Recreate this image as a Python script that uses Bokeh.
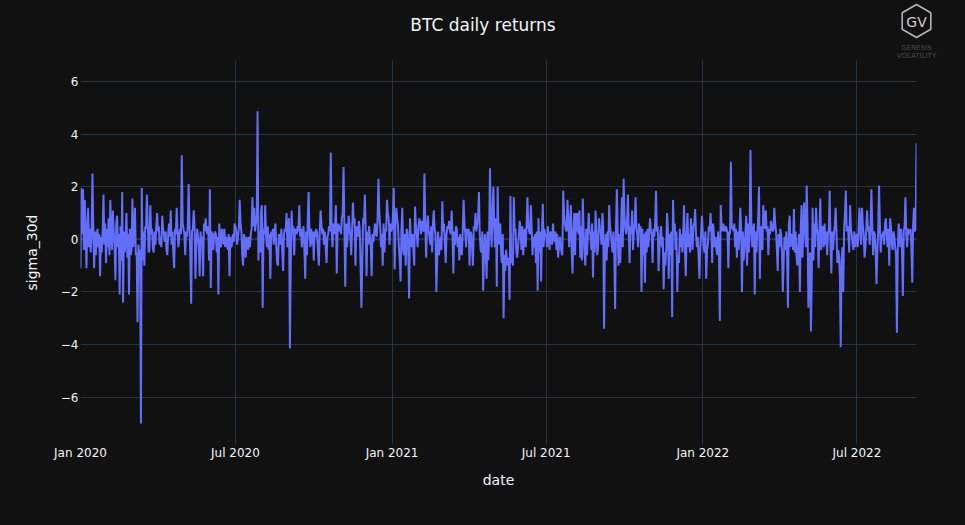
import calendar
import pandas as pd
from bokeh.plotting import figure
from bokeh.layouts import column
from bokeh.models import (Range1d, FixedTicker, Span, Label, ColumnDataSource,
                          DatetimeTickFormatter)
from bokeh.embed import file_html
from bokeh.resources import INLINE

TITLE = "BTC daily returns"
X_LABEL = "date"
Y_LABEL = "sigma_30d"
y_ticks = [-6, -4, -2, 0, 2, 4, 6]
x_tick_dates = ["2020-01-01", "2020-07-01", "2021-01-01", "2021-07-01", "2022-01-01", "2022-07-01"]
x_tick_labels = ["Jan 2020", "Jul 2020", "Jan 2021", "Jul 2021", "Jan 2022", "Jul 2022"]
start_date = "2020-01-01"

# daily sigma_30d values
r_2020_01 = [-1.1, 1.95, 0.2, 1.9, -0.4, 1.5, 0.3, -1.1, 0.5, 1.2, -0.3, 0.4, -0.5, 0.2, 2.5, 0.5, -1.1, 0.3, -0.6, 0.1, 0.4, -0.3, 0.2, -1.4, 0.1, -0.5, 0.3, 1.7, -0.2, 0.6, -0.9]
r_2020_02 = [0.4, -0.3, 0.8, -0.6, 1.5, 0.2, -0.4, 1.1, 0.3, -0.2, -1.55, 0.6, 0.9, -0.3, 0.2, -2.1, 0.5, -0.8, 1.8, -2.4, 0.3, -0.5, 0.1, 1.0, -0.7, 0.2, -2.1, 0.4, -0.6]
r_2020_03 = [-0.4, 1.55, -0.3, 0.2, 1.2, -0.6, -0.5, -3.15, -0.2, -0.6, -0.4, -7.0, 1.95, -0.8, 0.3, -1.0, 0.5, 0.4, 1.7, 0.6, -0.5, -0.4, 1.3, 0.2, 0.4, -0.3, -0.5, 0.3, -0.2, 0.5, 1.0]
r_2020_04 = [0.3, 0.5, -0.2, 0.1, -0.3, 0.9, 0.4, 0.2, -0.1, 0.3, -0.4, -0.6, 0.2, 0.6, 0.1, 1.1, -0.2, 0.3, -0.5, -1.1, 0.4, 0.2, 1.2, 0.3, -0.3, 0.1, 0.4, 0.2, 3.2, 0.6]
r_2020_05 = [0.4, 0.2, -0.6, 0.3, 0.1, 0.5, 2.1, 0.6, -0.7, -2.45, 0.3, 0.4, 1.1, 0.5, -1.5, -0.2, 0.4, 0.1, -0.3, -1.4, 0.3, -0.2, 0.1, -1.4, 0.6, 0.3, 0.8, 0.4, 0.2, 0.5, -0.8]
r_2020_06 = [1.9, -1.85, 0.3, 0.2, -0.4, 0.1, 0.3, 0.2, -0.5, 0.1, -2.1, 0.6, -0.1, -0.3, 0.4, 0.2, -0.2, 0.4, -0.3, 0.1, -0.1, -0.4, 0.2, -1.4, 0.1, -0.3, -0.2, 0.2, -0.1, 0.6]
r_2020_07 = [0.5, 0.3, -0.2, 0.1, 0.4, 1.5, 0.6, 0.3, -0.6, -1.0, 0.2, -0.3, -0.7, 0.1, -0.2, -0.4, 0.1, -0.3, 0.2, 0.4, 1.6, 0.5, 1.2, 0.3, 0.6, 0.9, 4.87, -0.8, 0.3, -0.5, 1.0]
r_2020_08 = [1.3, -2.6, 0.4, 0.2, 1.3, 0.1, -0.3, 0.5, -0.4, 0.2, -1.5, 0.3, 0.1, 0.4, -0.2, 0.3, 0.6, -0.3, -0.9, -1.0, 0.2, 0.1, -0.2, 0.4, -0.5, -1.2, 0.2, 0.4, 0.3, 1.0, -0.3]
r_2020_09 = [0.6, 0.8, -4.15, -0.9, 1.1, 0.2, 0.5, -0.6, 0.4, 0.3, 0.2, 0.5, 0.3, 1.3, 0.1, 0.4, -0.3, 0.2, 0.5, -0.4, -1.5, 0.3, -0.6, 0.8, 1.8, 0.2, -0.3, 0.4, -0.2, 0.3]
r_2020_10 = [-0.8, 0.3, 0.1, 0.4, 0.2, -0.5, -1.0, 0.3, 1.1, 0.6, 0.2, 0.4, -0.2, 0.3, -0.3, -0.9, 0.1, 0.2, 0.5, 0.3, 3.3, 0.4, -0.3, 0.6, 0.2, 0.5, 1.3, -1.3, 0.4, 0.6, 0.3]
r_2020_11 = [0.5, 0.2, 0.8, 1.0, 2.75, 0.4, -1.8, 0.6, -0.3, 0.2, 0.9, 0.5, 0.1, -0.6, 0.3, 1.4, 0.6, 0.8, -1.0, 0.5, 0.3, 0.1, 0.7, 0.4, -1.0, -2.6, -0.9, 0.8, 0.6, 1.7]
r_2020_12 = [0.4, -1.4, 0.3, -0.2, 0.5, 0.1, -0.3, -1.4, 0.2, -0.1, 0.3, 0.6, 0.2, 0.1, 0.8, 2.3, 1.0, 0.5, -0.3, 0.2, -1.0, 0.6, -0.5, 0.4, 0.3, 1.5, 1.0, 0.8, -0.2, 0.6, 0.3]
r_2021_01 = [0.4, 0.9, 1.95, -1.15, 0.6, 1.2, 0.8, 0.5, -0.3, -0.8, -1.6, 0.3, 1.2, -0.4, -0.6, 0.2, -1.0, 0.4, 0.3, -0.5, -2.25, 0.8, 0.1, -0.3, 0.2, -0.4, -1.0, 1.25, 0.5, 0.2, -0.3]
r_2021_02 = [0.5, 0.8, 0.6, 0.2, 0.7, 0.4, 0.3, 2.5, 0.6, -0.7, 0.4, 0.9, 0.3, 0.1, -0.2, 0.5, -0.5, 0.6, 1.1, 0.4, 0.2, -2.0, -0.8, 0.3, -0.6, -0.3, 0.1, -0.4]
r_2021_03 = [1.45, 0.3, 0.6, -0.2, -0.9, 0.2, 0.5, 0.4, 0.7, 0.3, 0.2, 1.1, 0.1, -1.3, 0.3, -0.2, 0.5, 0.4, -0.3, 0.1, -0.8, 0.2, -0.4, -0.6, 0.3, 1.5, 0.6, 0.2, -0.3, 0.4, 0.2]
r_2021_04 = [0.4, -1.0, 0.3, 0.2, -0.3, -1.0, 0.5, 0.4, 1.0, 0.3, 0.6, 0.8, 1.8, 0.2, -0.4, -0.5, 0.3, -1.95, -0.6, 0.2, -0.4, -1.5, 0.3, -0.8, 0.2, 2.7, 0.6, -0.3, 1.1, 2.0]
r_2021_05 = [0.5, -0.3, 0.8, -1.8, 2.0, 0.3, -0.2, 0.6, -0.5, -0.9, 0.2, -3.0, -0.6, -1.2, -0.4, -0.8, -1.0, -0.7, -2.3, 1.65, -0.9, -0.6, -1.0, 1.6, 0.3, 0.4, -0.5, -0.7, -0.3, 0.2, 0.7]
r_2021_06 = [0.3, -0.4, 0.5, -0.6, 0.2, 0.4, -0.3, 0.6, 1.6, 0.5, 0.3, 0.2, 1.3, 0.4, -0.6, 0.1, -0.3, 0.2, -0.9, 0.3, -1.95, 0.8, -0.5, 0.3, -1.6, 0.2, 1.35, -0.3, 0.4, 0.1]
r_2021_07 = [0.2, -0.3, 0.5, 0.1, -0.4, 0.3, 0.2, -0.2, 0.6, 0.1, -0.1, 0.3, -0.4, 0.2, -0.7, -0.3, 0.1, -0.2, -0.5, -0.6, 1.85, 1.0, 0.6, 0.4, 0.3, 1.5, 0.8, -0.3, 0.5, 1.3, -0.5]
r_2021_08 = [-1.3, 0.4, 1.0, -0.6, 1.0, 0.3, 1.0, 0.2, 1.1, -0.7, 0.5, -0.8, 1.55, 0.3, -0.5, -1.0, 0.4, -0.6, 0.2, 1.0, 0.3, 0.2, -0.4, 0.6, -1.45, 0.3, -0.5, 1.1, 0.2, -0.6, -0.3]
r_2021_09 = [0.8, 0.4, 0.3, -0.2, 1.0, 0.5, -3.4, -0.4, 0.2, -0.8, 0.3, -0.3, 1.3, 0.5, 0.2, -0.2, -0.5, 0.3, -0.6, -2.65, 0.4, 1.9, 0.3, -1.0, 0.2, -0.9, 0.4, 1.6, -0.3, 2.3]
r_2021_10 = [0.9, 0.4, 0.2, 0.6, 1.7, 0.3, -0.9, 0.5, 0.2, 1.1, -0.4, 0.3, 0.6, 1.6, 0.4, 0.2, -0.3, 0.6, 0.3, 0.5, -2.0, 0.4, -0.6, 0.2, -1.65, 0.3, -0.5, 0.4, -0.3, 0.2, 0.8]
r_2021_11 = [0.3, 0.2, -0.9, 0.4, 0.1, 0.6, 1.85, 0.3, 0.5, -1.2, -0.4, 0.2, 0.5, -0.3, 0.1, -1.9, -0.5, -1.0, -0.3, 1.0, 0.4, -1.5, 0.2, -0.6, 0.3, -2.95, 1.5, 0.3, 0.6, -0.4]
r_2021_12 = [0.3, -2.0, -0.6, -0.9, 0.4, -0.3, 0.2, -0.5, 0.3, 1.3, -0.4, -1.4, 0.2, 1.0, -0.3, 0.2, -0.5, 0.8, 0.3, -0.4, 0.5, 0.6, 1.15, 0.2, -0.3, 0.1, -0.6, -1.5, -0.4, 0.2, 0.9]
r_2022_01 = [0.2, -0.3, -0.5, 0.3, -1.5, -0.4, -0.2, 0.5, 0.3, 1.0, 0.4, -0.9, 0.6, 0.2, -0.3, 0.1, -0.4, -0.6, 0.3, -0.5, -3.1, 1.3, 0.5, 0.3, 0.6, 0.4, 0.3, 0.5, 0.4, 0.2, -1.1]
r_2022_02 = [0.3, 0.2, 2.95, 0.4, 0.5, 0.3, 0.6, -0.3, 0.4, -0.7, 0.3, -0.4, 0.2, 1.2, 0.4, -2.0, 0.3, -0.8, -0.4, 0.2, 0.9, -1.0, 0.6, -0.5, 0.3, 3.4, 0.5, -0.3]
r_2022_03 = [0.4, 0.6, -2.1, 0.3, -0.5, 0.2, 0.8, 2.0, -1.5, 0.5, 0.3, -0.4, 1.3, 0.6, 0.4, 1.1, 0.3, 0.5, -0.6, 0.4, 0.2, 0.7, 0.5, 0.3, 0.4, 1.2, 0.6, 0.3, -0.4, -1.2, 0.2]
r_2022_04 = [-0.3, 0.4, 0.2, -0.5, -2.0, -0.8, 0.1, -0.4, 0.3, -0.6, -2.6, 0.5, 0.9, -0.3, 0.2, 0.1, -0.4, 1.15, -0.5, 0.3, -0.6, -1.0, -0.3, 0.2, -2.0, 0.4, 1.3, -0.7, 0.3, 1.4]
r_2022_05 = [0.4, -0.3, 2.05, 0.6, -2.6, -0.9, -0.5, -3.5, -1.4, 1.2, -0.8, 0.6, -0.3, 1.2, 0.4, 0.2, -1.1, 0.3, 1.55, -0.4, 0.2, 0.5, -0.3, 0.6, -0.2, 0.3, -0.6, 0.2, 0.4, 1.85, -0.2]
r_2022_06 = [-1.3, 0.3, -0.4, 0.2, 0.5, 1.2, 0.3, -0.9, -0.4, -0.6, -1.4, -4.1, -0.8, -0.3, -2.0, 0.4, 1.0, 1.85, 0.3, 0.5, 0.2, -0.5, 1.3, 0.4, 0.2, -0.2, -0.4, 0.3, -0.3, 0.1]
r_2022_07 = [0.2, -0.3, 0.4, 1.2, 0.3, -0.2, 1.2, 0.5, 0.2, -0.7, -0.3, 0.4, 1.1, 0.3, 0.5, -0.2, 0.4, 1.9, 0.6, -0.6, 0.3, 0.2, -0.4, -1.7, -0.5, 0.3, 2.05, 0.6, -0.5, 0.2, 0.1]
r_2022_08 = [0.3, -0.2, 0.6, 0.8, 0.2, -0.3, 0.4, -1.0, 0.8, 0.5, -0.2, -0.4, 0.3, 0.1, -0.3, -0.6, -3.55, -0.4, 0.6, 0.2, -0.3, 0.4, -0.5, -2.15, 0.3, 0.5, 1.6, 0.2, -0.3, 0.4, 0.3]
r_2022_09 = [0.2, 0.4, -0.3, -1.65, 0.5, 1.2, 0.3, 0.4, 3.65]

months = [
    ("2020-01", r_2020_01), ("2020-02", r_2020_02), ("2020-03", r_2020_03), ("2020-04", r_2020_04),
    ("2020-05", r_2020_05), ("2020-06", r_2020_06), ("2020-07", r_2020_07), ("2020-08", r_2020_08),
    ("2020-09", r_2020_09), ("2020-10", r_2020_10), ("2020-11", r_2020_11), ("2020-12", r_2020_12),
    ("2021-01", r_2021_01), ("2021-02", r_2021_02), ("2021-03", r_2021_03), ("2021-04", r_2021_04),
    ("2021-05", r_2021_05), ("2021-06", r_2021_06), ("2021-07", r_2021_07), ("2021-08", r_2021_08),
    ("2021-09", r_2021_09), ("2021-10", r_2021_10), ("2021-11", r_2021_11), ("2021-12", r_2021_12),
    ("2022-01", r_2022_01), ("2022-02", r_2022_02), ("2022-03", r_2022_03), ("2022-04", r_2022_04),
    ("2022-05", r_2022_05), ("2022-06", r_2022_06), ("2022-07", r_2022_07), ("2022-08", r_2022_08),
    ("2022-09", r_2022_09),
]

values = []
for i, (ym, arr) in enumerate(months):
    yy, mm = int(ym[:4]), int(ym[5:])
    ndays = calendar.monthrange(yy, mm)[1]
    if i < len(months) - 1 and len(arr) != ndays:
        raise ValueError(f"{ym}: {len(arr)} values, expected {ndays}")
    values.extend(arr)

dates = pd.date_range(start_date, periods=len(values), freq="D")
src = ColumnDataSource(data=dict(date=dates, value=values))

BG = "#111111"
GRID = "#283442"
FG = "#f2f5fa"
FONT = "DejaVu Sans"

W, H = 965, 525
HEAD = 60                      # header strip holding the title and the logo
ML, MR, MB = 80, 49, 81

# ---------- header: title + logo (pixel canvas, y downwards) ----------
hdr = figure(width=W, height=HEAD, output_backend="svg", toolbar_location=None,
             x_range=Range1d(0, W), y_range=Range1d(HEAD, 0),
             x_axis_location=None, y_axis_location=None,
             min_border_left=0, min_border_right=0, min_border_top=0, min_border_bottom=0)
hdr.frame_align = False
hdr.background_fill_color = BG
hdr.border_fill_color = BG
hdr.outline_line_color = None
hdr.xgrid.visible = False
hdr.ygrid.visible = False

hdr.add_layout(Label(x=W / 2, y=24, text=TITLE, text_align="center", text_baseline="middle",
                     text_color=FG, text_font=FONT, text_font_size="17px"))
cx, cy, rv, hw = 916, 20.5, 16.5, 14.3
hdr.patch([cx, cx + hw, cx + hw, cx, cx - hw, cx - hw],
          [cy - rv, cy - rv / 2, cy + rv / 2, cy + rv, cy + rv / 2, cy - rv / 2],
          fill_color=None, line_color="#b4b4b4", line_width=1.6)
hdr.add_layout(Label(x=cx, y=cy + 1, text="GV", text_align="center", text_baseline="middle",
                     text_color="#cfcfcf", text_font=FONT, text_font_size="14px"))
hdr.add_layout(Label(x=cx, y=47, text="GENESIS", text_align="center", text_baseline="middle",
                     text_color="#4a4a4a", text_font=FONT, text_font_size="7px"))
hdr.add_layout(Label(x=cx, y=55, text="VOLATILITY", text_align="center", text_baseline="middle",
                     text_color="#4a4a4a", text_font=FONT, text_font_size="7px"))

# ---------- main chart ----------
p = figure(width=W, height=H - HEAD, x_axis_type="datetime", output_backend="svg",
           toolbar_location=None, min_border_left=ML, min_border_right=MR,
           min_border_top=0, min_border_bottom=MB,
           x_range=Range1d(dates[0], dates[-1]), y_range=Range1d(-7.8, 6.8))
p.frame_align = False
p.background_fill_color = BG
p.border_fill_color = BG
p.outline_line_color = None

x_ticks_ms = [pd.Timestamp(d).value // 10**6 for d in x_tick_dates]
p.xaxis.ticker = FixedTicker(ticks=x_ticks_ms)
p.xaxis.formatter = DatetimeTickFormatter(months="%b %Y", days="%b %Y", years="%b %Y")
p.xaxis.major_label_overrides = {t: lab for t, lab in zip(x_ticks_ms, x_tick_labels)}
p.yaxis.ticker = FixedTicker(ticks=y_ticks)
p.yaxis.major_label_overrides = {t: (str(t).replace("-", "\u2212")) for t in y_ticks}

for ax in (p.xaxis[0], p.yaxis[0]):
    ax.axis_line_color = None
    ax.major_tick_line_color = None
    ax.minor_tick_line_color = None
    ax.major_tick_out = 0
    ax.major_tick_in = 0
    ax.minor_tick_out = 0
    ax.minor_tick_in = 0
    ax.major_label_text_color = FG
    ax.major_label_text_font = FONT
    ax.major_label_text_font_size = "12px"
    ax.axis_label_text_color = FG
    ax.axis_label_text_font = FONT
    ax.axis_label_text_font_size = "14px"
    ax.axis_label_text_font_style = "normal"

p.xaxis.axis_label = X_LABEL
p.yaxis.axis_label = Y_LABEL
p.xaxis.major_label_standoff = 1
p.xaxis.axis_label_standoff = 9
p.yaxis.major_label_standoff = 2
p.yaxis.axis_label_standoff = 18

p.xgrid.grid_line_color = GRID
p.ygrid.grid_line_color = GRID
p.xgrid.grid_line_width = 1
p.ygrid.grid_line_width = 1

p.add_layout(Span(location=0, dimension="width", line_color=GRID, line_width=2, level="underlay"))

p.line("date", "value", source=src, line_color="#636efa", line_width=2)

page = column(hdr, p, spacing=0)
template = """{% block preamble %}<style>body { background-color: #111111; }</style>{% endblock %}"""
open("out.html", "w").write(file_html(page, INLINE, template=template))
